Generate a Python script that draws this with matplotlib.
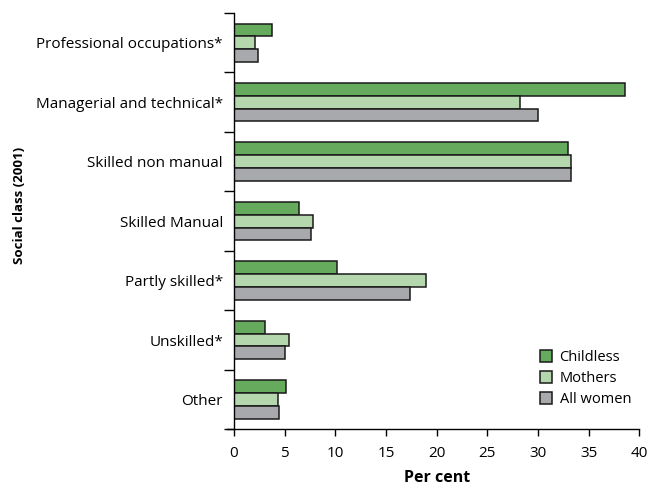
import numpy as np
import matplotlib.pyplot as plt

plt.rcParams['font.family'] = ['Open Sans', 'DejaVu Sans']

# data
categories = ["Professional occupations*", "Managerial and technical*",
              "Skilled non manual", "Skilled Manual", "Partly skilled*",
              "Unskilled*", "Other"]
childless = [3.7, 38.6, 33.0, 6.4, 10.2, 3.1, 5.1]
mothers = [2.1, 28.2, 33.3, 7.8, 18.9, 5.4, 4.3]
all_women = [2.4, 30.0, 33.3, 7.6, 17.4, 5.0, 4.4]
series_names = ["Childless", "Mothers", "All women"]
colors = ["#66aa5e", "#b5d7ae", "#a8a9ad"]
xticks = [0, 5, 10, 15, 20, 25, 30, 35, 40]

fig = plt.figure(figsize=(6.49, 4.9), dpi=100)
ax = fig.add_axes([0.3606, 0.1239, 0.6244, 0.8496])

y = np.arange(len(categories))
h = 0.215
for i, (vals, name, c) in enumerate(zip([childless, mothers, all_women], series_names, colors)):
    ax.barh(y + (i - 1) * h, vals, height=h, color=c, edgecolor="#1a1a1a",
            linewidth=1.1, label=name)

ax.set_xlim(0, 40)
ax.set_ylim(len(categories) - 0.5, -0.5)
ax.set_xticks(xticks)
ax.set_xticklabels([str(t) for t in xticks], fontsize=11)
ax.set_yticks(y)
ax.set_yticklabels(categories, fontsize=11)
ax.tick_params(axis="y", length=0, pad=8)
ax.set_yticks(np.arange(-0.5, len(categories), 1.0), minor=True)
ax.tick_params(axis="y", which="minor", length=7, width=1, direction="out")
ax.tick_params(axis="x", length=5, width=1, direction="out", pad=7)

for s in ["top", "right"]:
    ax.spines[s].set_visible(False)
for s in ["left", "bottom"]:
    ax.spines[s].set_linewidth(1.0)
# bottom line runs a little past the left axis, as in the original
ax.spines["bottom"].set_bounds(-0.7, 40)

ax.set_xlabel("Per cent", fontsize=11.5, fontweight="bold")
ax.xaxis.set_label_coords(0.5, -0.098)
ax.set_ylabel("Social class (2001)", fontsize=9.5, fontweight="bold")
ax.yaxis.set_label_coords(-0.513, 0.538)

ax.legend(loc="lower right", frameon=False, fontsize=10.5, handlelength=0.85,
          handleheight=0.85, handletextpad=0.5, labelspacing=0.42,
          bbox_to_anchor=(1.012, 0.022))

fig.savefig("out.png", dpi=100)
